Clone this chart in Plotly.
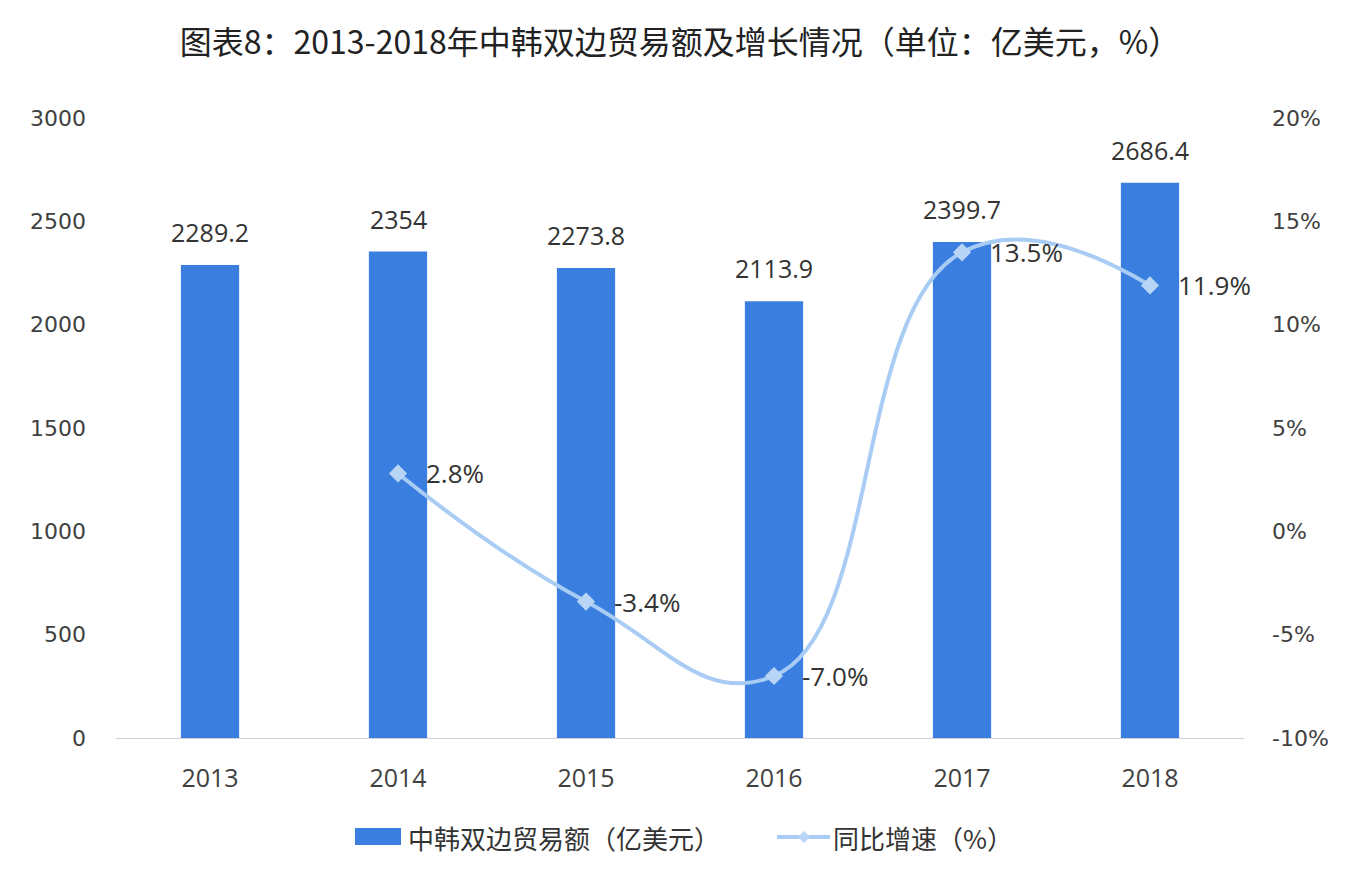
import plotly.graph_objects as go

years = ["2013", "2014", "2015", "2016", "2017", "2018"]
trade = [2289.2, 2354, 2273.8, 2113.9, 2399.7, 2686.4]
growth_years = ["2014", "2015", "2016", "2017", "2018"]
growth = [2.8, -3.4, -7.0, 13.5, 11.9]
trade_labels = ["2289.2", "2354", "2273.8", "2113.9", "2399.7", "2686.4"]
growth_labels = ["2.8%", "-3.4%", "-7.0%", "13.5%", "11.9%"]
left_ticks = [0, 500, 1000, 1500, 2000, 2500, 3000]
right_ticks = [-10, -5, 0, 5, 10, 15, 20]
right_tick_labels = ["-10%", "-5%", "0%", "5%", "10%", "15%", "20%"]
bar_name = "中韩双边贸易额（亿美元）"
line_name = "同比增速（%）"

NUM_FONT = "Open Sans, Noto Sans CJK SC, sans-serif"
TICK_FONT = "DejaVu Sans, Open Sans, sans-serif"
CJK_FONT = "Noto Sans CJK SC, Open Sans, sans-serif"
BAR_COLOR = "#3a7fe0"
LINE_COLOR = "#a8ccf4"
MARKER_COLOR = "#b8d5f6"

W, H = 1360, 890
L, R, T, B = 108, 124, 110, 160
PW, PH = W - L - R, H - T - B
OFF = 8  # page body margin


def px(xs):
    return (xs - OFF - L) / PW


def py(ys):
    return 1 - (ys - OFF - T) / PH


fig = go.Figure()
fig.add_trace(go.Bar(
    x=years, y=trade, name=bar_name,
    marker=dict(color=BAR_COLOR, line=dict(width=0)),
    yaxis="y", showlegend=False,
))
fig.add_trace(go.Scatter(
    x=growth_years, y=growth, name=line_name,
    mode="lines+markers",
    line=dict(color=LINE_COLOR, width=4, shape="spline", smoothing=1.3),
    marker=dict(symbol="diamond", size=14, color=MARKER_COLOR),
    yaxis="y2", showlegend=False, cliponaxis=False,
))

annotations = []
for yr, v, lab in zip(years, trade, trade_labels):
    annotations.append(dict(x=years.index(yr), y=v, xref="x", yref="y", text=lab,
                            showarrow=False, yanchor="middle", yshift=33,
                            font=dict(family=NUM_FONT, size=25, color="#333333")))
for yr, v, lab in zip(growth_years, growth, growth_labels):
    annotations.append(dict(x=years.index(yr), y=v, xref="x", yref="y2", text=lab,
                            showarrow=False, xanchor="left", yanchor="middle", xshift=26,
                            font=dict(family=NUM_FONT, size=26, color="#333333")))

# manual legend
annotations.append(dict(x=px(406), y=py(837), xref="paper", yref="paper", text=bar_name,
                        showarrow=False, xanchor="left", yanchor="middle",
                        font=dict(family=CJK_FONT, size=26, color="#333333")))
annotations.append(dict(x=px(831), y=py(837), xref="paper", yref="paper", text=line_name,
                        showarrow=False, xanchor="left", yanchor="middle",
                        font=dict(family=CJK_FONT, size=26, color="#333333")))

shapes = [
    dict(type="rect", xref="paper", yref="paper", x0=px(355), x1=px(401), y0=py(845), y1=py(828),
         fillcolor=BAR_COLOR, line=dict(width=0)),
    dict(type="line", xref="paper", yref="paper", x0=px(777), x1=px(830), y0=py(837), y1=py(837),
         line=dict(color=LINE_COLOR, width=4)),
    dict(type="path", xref="paper", yref="paper",
         path="M {a},{b} L {c},{d} L {a},{e} L {f},{d} Z".format(
             a=px(804), b=py(831), c=px(810), d=py(837), e=py(843), f=px(798)),
         fillcolor=MARKER_COLOR, line=dict(width=0)),
]

fig.update_layout(
    width=W, height=H,
    paper_bgcolor="white", plot_bgcolor="white",
    margin=dict(l=L, r=R, t=T, b=B, autoexpand=False),
    title=dict(text="图表8：2013-2018年中韩双边贸易额及增长情况（单位：亿美元，%）",
               x=0.5, xanchor="center", xref="paper", y=1 - 35 / H, yanchor="middle",
               font=dict(family=CJK_FONT, size=32, color="#222222")),
    bargap=0.69,
    showlegend=False,
    annotations=annotations,
    shapes=shapes,
    xaxis=dict(type="category", range=[-0.5, len(years) - 0.5], autorange=False,
               showgrid=False, showline=True, linecolor="#d0d0d0",
               linewidth=1, ticks="", tickfont=dict(family=NUM_FONT, size=25, color="#404040"),
               ticklabelstandoff=18),
    yaxis=dict(range=[0, 3000], tickvals=left_ticks, showgrid=False, zeroline=False,
               showline=False, tickfont=dict(family=TICK_FONT, size=22, color="#404040"),
               ticklabelstandoff=29),
    yaxis2=dict(range=[-10, 20], tickvals=right_ticks, ticktext=right_tick_labels,
                overlaying="y", side="right", showgrid=False, zeroline=False,
                showline=False, tickfont=dict(family=TICK_FONT, size=22, color="#404040"),
                ticklabelstandoff=27),
)

fig.write_html("out.html")
